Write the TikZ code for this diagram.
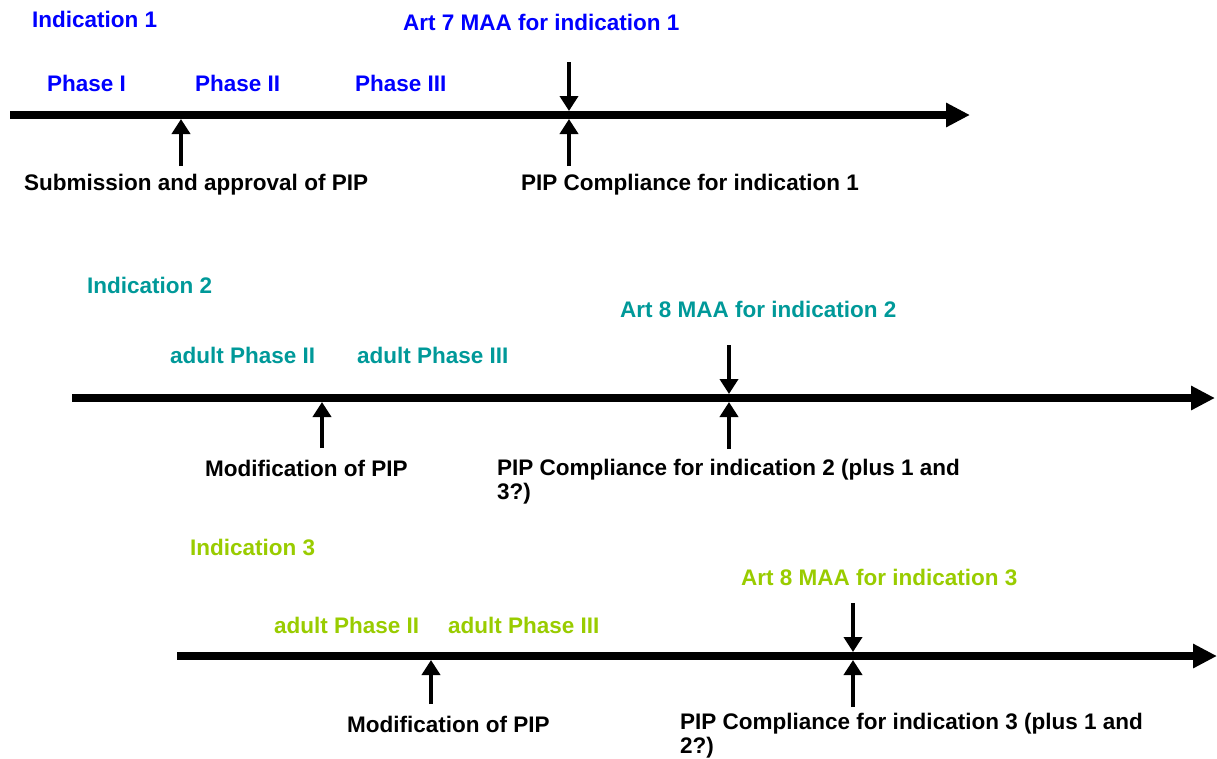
\documentclass[tikz,border=0pt]{standalone}
\usepackage{fontspec}
\setmainfont{Liberation Sans}
\usetikzlibrary{arrows.meta}
\definecolor{indblue}{RGB}{0,0,255}
\definecolor{indteal}{RGB}{0,153,153}
\definecolor{indgreen}{RGB}{153,204,0}

\begin{document}
\begin{tikzpicture}[x=1pt, y=-1pt,
    lbl/.style={anchor=base west, inner sep=0pt, align=left,
        font=\fontsize{22.5}{24}\selectfont\bfseries},
    axis/.style={line width=7.5pt, -{Triangle[length=24pt, width=23pt]}},
    tick/.style={line width=4.5pt, -{Triangle[length=15pt, width=18pt]}}]
    \useasboundingbox (0,0) rectangle (1217,758);

    % indication 1
    \node[lbl, indblue] (ind1) at (32,27) {Indication 1};
    \node[lbl, indblue] (maa1) at (403,30) {Art 7 MAA for indication 1};
    \node[lbl, indblue] (ph1a) at (47,91) {Phase I};
    \node[lbl, indblue] (ph1b) at (195,91) {Phase II};
    \node[lbl, indblue] (ph1c) at (355,91) {Phase III};
    \node[lbl] (sub1) at (24,190) {Submission and approval of PIP};
    \node[lbl] (comp1) at (521,190) {PIP Compliance for indication 1};

    \coordinate (l1s) at (10,115);
    \coordinate (l1e) at (970,115);
    \draw[axis] (l1s) -- (l1e);
    \coordinate (s1b) at (181,166);
    \coordinate (s1t) at (181,119);
    \draw[tick] (s1b) -- (s1t);
    \coordinate (m1a) at (569,62);
    \coordinate (m1b) at (569,111);
    \coordinate (m1c) at (569,166);
    \coordinate (m1d) at (569,119);
    \draw[tick] (m1a) -- (m1b);
    \draw[tick] (m1c) -- (m1d);

    % indication 2
    \node[lbl, indteal] (ind2) at (87,293) {Indication 2};
    \node[lbl, indteal] (maa2) at (620,317) {Art 8 MAA for indication 2};
    \node[lbl, indteal] (ph2a) at (170,363) {adult Phase II};
    \node[lbl, indteal] (ph2b) at (357,363) {adult Phase III};
    \node[lbl] (mod2) at (205,476) {Modification of PIP};
    \node[lbl] (comp2) at (497,499) {PIP Compliance for indication 2 (plus 1 and\\3?)};

    \coordinate (l2s) at (72,398);
    \coordinate (l2e) at (1215,398);
    \draw[axis] (l2s) -- (l2e);
    \coordinate (s2b) at (322,448);
    \coordinate (s2t) at (322,402);
    \draw[tick] (s2b) -- (s2t);
    \coordinate (m2a) at (729,345);
    \coordinate (m2b) at (729,394);
    \coordinate (m2c) at (729,449);
    \coordinate (m2d) at (729,402);
    \draw[tick] (m2a) -- (m2b);
    \draw[tick] (m2c) -- (m2d);

    % indication 3
    \node[lbl, indgreen] (ind3) at (190,555) {Indication 3};
    \node[lbl, indgreen] (maa3) at (741,585) {Art 8 MAA for indication 3};
    \node[lbl, indgreen] (ph3a) at (274,633) {adult Phase II};
    \node[lbl, indgreen] (ph3b) at (448,633) {adult Phase III};
    \node[lbl] (mod3) at (347,732) {Modification of PIP};
    \node[lbl] (comp3) at (680,753) {PIP Compliance for indication 3 (plus 1 and\\2?)};

    \coordinate (l3s) at (177,656);
    \coordinate (l3e) at (1217,656);
    \draw[axis] (l3s) -- (l3e);
    \coordinate (s3b) at (431,704);
    \coordinate (s3t) at (431,660);
    \draw[tick] (s3b) -- (s3t);
    \coordinate (m3a) at (853,603);
    \coordinate (m3b) at (853,652);
    \coordinate (m3c) at (853,707);
    \coordinate (m3d) at (853,660);
    \draw[tick] (m3a) -- (m3b);
    \draw[tick] (m3c) -- (m3d);
\end{tikzpicture}
\end{document}
